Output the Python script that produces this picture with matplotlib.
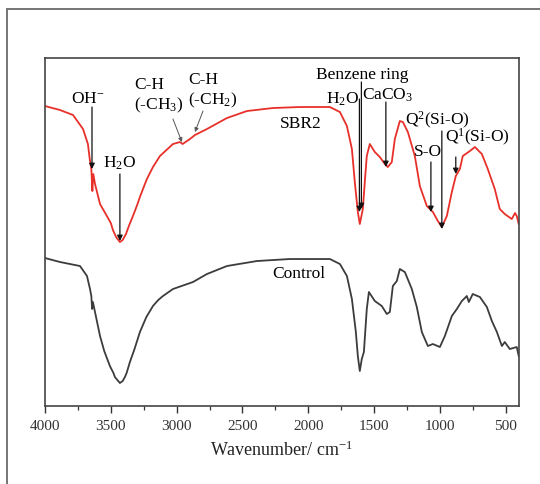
import matplotlib
matplotlib.use("Agg")
import matplotlib.pyplot as plt
from matplotlib.patches import Rectangle

plt.rcParams['font.family'] = ['Liberation Serif', 'DejaVu Serif']
plt.rcParams['mathtext.fontset'] = 'custom'
plt.rcParams['mathtext.rm'] = 'Liberation Serif'
plt.rcParams['mathtext.default'] = 'regular'

# SBR2 spectrum (red), transmittance in arbitrary units
sbr2_wn = [4000, 3886, 3787, 3711, 3674, 3660, 3648, 3640, 3633, 3620, 3582, 3530,
           3500, 3484, 3460, 3431, 3410, 3385, 3360, 3332, 3300, 3279, 3250, 3226,
           3180, 3127, 3028, 2975, 2955, 2899, 2861,
           2770, 2618, 2466, 2269, 2064, 1836, 1760, 1707, 1669, 1647, 1624, 1609,
           1586, 1571, 1556, 1533, 1495, 1457, 1419, 1396, 1366, 1343, 1305, 1282,
           1244, 1191, 1153, 1100, 1054, 1016, 986, 948, 910, 880, 849, 827, 773,
           735, 682, 637, 584, 546, 508, 455, 430, 417, 402]
sbr2_t = [300, 296, 291, 277, 262, 247, 237, 215, 232, 222, 202, 190,
          183, 176, 169, 164, 166, 172, 181, 190, 201, 209, 219, 227,
          239, 250, 262, 264, 262, 267, 271,
          277, 288, 295, 298, 299, 299, 294, 280, 257, 224, 194, 182,
          197, 224, 250, 262, 254, 249, 242, 239, 244, 267, 285, 284,
          274, 250, 220, 200, 194, 185, 179, 190, 214, 230, 237, 250, 255,
          259, 252, 237, 217, 197, 192, 187, 193, 190, 182]

# Control spectrum (dark grey)
ctrl_wn = [4000, 3886, 3734, 3681, 3658, 3648, 3642, 3636, 3582, 3550, 3507, 3480,
           3469, 3450, 3431, 3410, 3393, 3380, 3355, 3320, 3279, 3230, 3180, 3140,
           3104, 3028, 2876, 2770, 2618, 2390, 2140, 1836,
           1760, 1707, 1669, 1639, 1624, 1609, 1594, 1578, 1556, 1540, 1495, 1442,
           1404, 1381, 1358, 1328, 1305, 1267, 1214, 1176, 1138, 1092, 1054, 1001,
           963, 910, 872, 834, 796, 781, 751, 697, 644, 606, 568, 530, 508, 470,
           417, 402]
ctrl_t = [148, 144, 140, 130, 117, 110, 97, 104, 70, 55, 40, 33,
          29, 26, 23, 25, 29, 33, 44, 57, 74, 89, 100, 106,
          110, 117, 124, 132, 140, 145, 147, 147,
          142, 130, 107, 74, 50, 35, 47, 54, 97, 114, 105, 100,
          92, 94, 120, 125, 137, 134, 117, 99, 74, 60, 62, 59,
          70, 90, 97, 105, 110, 104, 112, 109, 99, 85, 74, 60, 64, 57,
          59, 50]

x_ticks = [4000, 3500, 3000, 2500, 2000, 1500, 1000, 500]

fig = plt.figure(figsize=(5.4, 4.85), dpi=100)
ax = fig.add_axes([0.0833, 0.1608, 0.8778, 0.7175])

# outer frame of the figure panel
fig.patches.append(Rectangle((7 / 540, -0.2), 1.3, 1.2 - 10 / 485, transform=fig.transFigure,
                             fill=False, edgecolor='#6a6a6a', lw=1.3, clip_on=False))

ax.plot(sbr2_wn, sbr2_t, color='#e8302a', lw=1.3)
ax.plot(ctrl_wn, ctrl_t, color='#3c3c3c', lw=1.3)

ax.set_xlim(4000, 400)
ax.set_ylim(0, 348)
ax.set_xticks(x_ticks)
ax.set_xticks([3750, 3250, 2750, 2250, 1750, 1250, 750], minor=True)
ax.set_yticks([])
ax.tick_params(axis='x', which='major', direction='out', length=5, width=1.0,
               labelsize=11, pad=4, colors='#333333')
ax.tick_params(axis='x', which='minor', direction='out', length=3, width=0.9, colors='#333333')
for s in ax.spines.values():
    s.set_color('#444444')
    s.set_linewidth(1.2)
ax.set_xlabel('Wavenumber/ cm$^{-1}$', fontsize=13, labelpad=6, color='#222222')

fs = 12.5
arr = dict(arrowstyle='-|>', color='#111111', lw=0.9, mutation_scale=8, shrinkA=0, shrinkB=0)
arr_thin = dict(arrowstyle='-|>', color='#555555', lw=0.7, mutation_scale=6, shrinkA=0, shrinkB=0)

ax.text(3674, 308, 'OH$^{-}$', fontsize=fs, ha='center', va='center')
ax.annotate('', xy=(3643, 237), xytext=(3643, 299), arrowprops=arr)

ax.text(3431, 244, 'H$_2$O', fontsize=fs, ha='center', va='center')
ax.annotate('', xy=(3431, 165), xytext=(3431, 232), arrowprops=arr)

ax.text(3324, 311, 'C-H\n(-CH$_3$)', fontsize=fs, ha='left', va='center', linespacing=1.2)
ax.annotate('', xy=(2960, 264), xytext=(3028, 287), arrowprops=arr_thin)

ax.text(2914, 316, 'C-H\n(-CH$_2$)', fontsize=fs, ha='left', va='center', linespacing=1.2)
ax.annotate('', xy=(2861, 274), xytext=(2800, 295), arrowprops=arr_thin)

ax.text(2216, 283, 'SBR2', fontsize=fs, ha='left', va='center')
ax.text(2277, 133, 'Control', fontsize=fs, ha='left', va='center')

ax.text(1593, 332, 'Benzene ring', fontsize=fs, ha='center', va='center')
ax.annotate('', xy=(1597, 197), xytext=(1597, 324), arrowprops=arr)

ax.text(1614, 308, 'H$_2$O', fontsize=fs, ha='right', va='center')
ax.annotate('', xy=(1612, 194), xytext=(1612, 307), arrowprops=arr)

ax.text(1396, 312, 'CaCO$_3$', fontsize=fs, ha='center', va='center')
ax.annotate('', xy=(1411, 239), xytext=(1411, 304), arrowprops=arr)

ax.text(1016, 287, 'Q$^2$(Si-O)', fontsize=fs, ha='center', va='center')
ax.annotate('', xy=(986, 177), xytext=(986, 275), arrowprops=arr)

ax.text(1092, 255, 'S-O', fontsize=fs, ha='center', va='center')
ax.annotate('', xy=(1069, 194), xytext=(1069, 244), arrowprops=arr)

ax.text(713, 270, 'Q$^1$(Si-O)', fontsize=fs, ha='center', va='center')
ax.annotate('', xy=(880, 232), xytext=(880, 249), arrowprops=arr)

fig.savefig('out.png', dpi=100, facecolor='white')
